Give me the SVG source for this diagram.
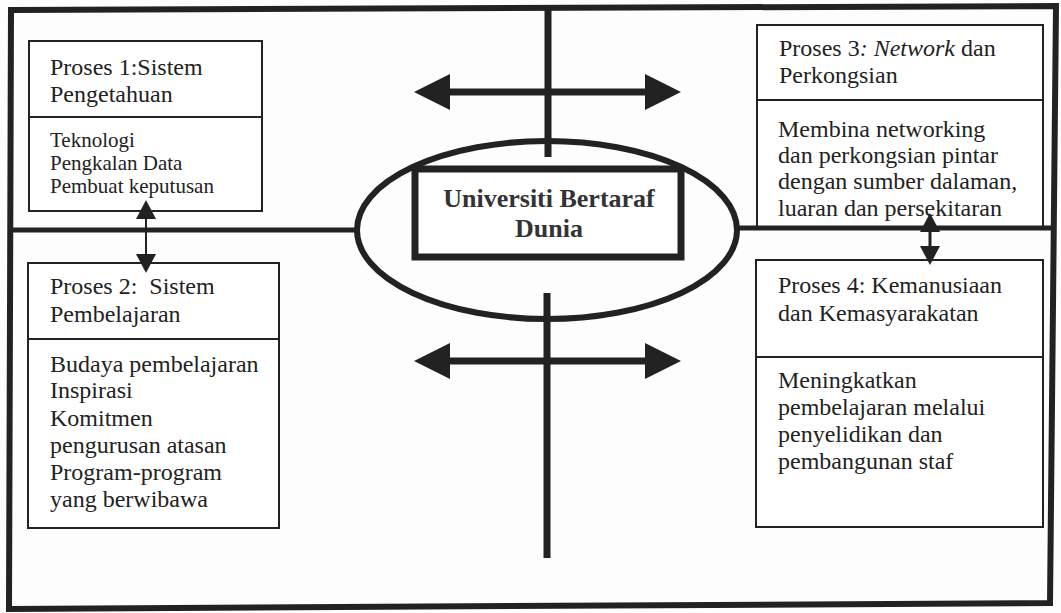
<svg xmlns="http://www.w3.org/2000/svg" width="1061" height="613" viewBox="0 0 1061 613">
<style>
.bg{fill:#fdfdfd}
.frame{fill:none;stroke:#222;stroke-width:6;stroke-linejoin:miter}
.box{fill:#fff;stroke:#222;stroke-width:2}
.div{stroke:#222;stroke-width:2}
.t{font-family:"Liberation Serif","Times New Roman",serif;font-size:24px;fill:#222}
.s{font-size:21px}
.c{font-family:"Liberation Serif","Times New Roman",serif;font-size:26px;font-weight:bold;fill:#333;text-anchor:middle}
.thick{stroke:#222;fill:none}
</style>
<defs>
<marker id="big" viewBox="0 0 36 36" refX="0" refY="18" markerWidth="36" markerHeight="36" markerUnits="userSpaceOnUse" orient="auto-start-reverse">
<path d="M0,0 L36,18 L0,36 Z" fill="#222"/>
</marker>
<marker id="small" viewBox="0 0 20 20" refX="0" refY="10" markerWidth="20" markerHeight="20" markerUnits="userSpaceOnUse" orient="auto-start-reverse">
<path d="M0,0 L19,10 L0,20 Z" fill="#222"/>
</marker>
</defs>
<rect class="bg" x="0" y="0" width="1061" height="613"/>
<g id="frame">
<polygon class="frame" points="11,10 1056,6 1050,603 9,609"/>
</g>
<g id="center">
<ellipse cx="547" cy="230" rx="190" ry="89" fill="none" stroke="#222" stroke-width="6"/>
<rect x="415" y="169" width="266" height="88" fill="#fff" stroke="#222" stroke-width="7"/>
<text class="c" x="549" y="207">Universiti Bertaraf</text>
<text class="c" x="549" y="237">Dunia</text>
</g>
<g id="box1">
<rect class="box" x="29" y="41" width="233" height="170"/>
<line class="div" x1="29" y1="117" x2="262" y2="117"/>
<text class="t" x="50" y="75">Proses 1:Sistem</text>
<text class="t" x="50" y="102">Pengetahuan</text>
<text class="t s" x="50" y="147">Teknologi</text>
<text class="t s" x="50" y="170">Pengkalan Data</text>
<text class="t s" x="50" y="193">Pembuat keputusan</text>
</g>
<g id="box2">
<rect class="box" x="28" y="263" width="251" height="265"/>
<line class="div" x1="28" y1="339" x2="279" y2="339"/>
<text class="t" x="50" y="294" xml:space="preserve">Proses 2:  Sistem</text>
<text class="t" x="50" y="322">Pembelajaran</text>
<text class="t" x="50" y="372">Budaya pembelajaran</text>
<text class="t" x="50" y="398">Inspirasi</text>
<text class="t" x="50" y="426">Komitmen</text>
<text class="t" x="50" y="453">pengurusan atasan</text>
<text class="t" x="50" y="480">Program-program</text>
<text class="t" x="50" y="507">yang berwibawa</text>
</g>
<g id="box3">
<rect class="box" x="757" y="25" width="286" height="203"/>
<line class="div" x1="757" y1="100" x2="1043" y2="100"/>
<text class="t" x="779" y="56">Proses 3<tspan font-style="italic">: Network</tspan> dan</text>
<text class="t" x="779" y="83">Perkongsian</text>
<text class="t" x="778" y="137">Membina networking</text>
<text class="t" x="778" y="163">dan perkongsian pintar</text>
<text class="t" x="778" y="189">dengan sumber dalaman,</text>
<text class="t" x="778" y="216">luaran dan persekitaran</text>
</g>
<g id="box4">
<rect class="box" x="756" y="260" width="287" height="267"/>
<line class="div" x1="756" y1="357" x2="1043" y2="357"/>
<text class="t" x="778" y="293">Proses 4: Kemanusiaan</text>
<text class="t" x="778" y="321">dan Kemasyarakatan</text>
<text class="t" x="778" y="388">Meningkatkan</text>
<text class="t" x="778" y="415">pembelajaran melalui</text>
<text class="t" x="778" y="442">penyelidikan dan</text>
<text class="t" x="778" y="469">pembangunan staf</text>
</g>
<g id="connectors">
<line class="thick" x1="10" y1="230" x2="357" y2="230" stroke-width="5"/>
<line class="thick" x1="737" y1="228" x2="1053" y2="228" stroke-width="5"/>
<line class="thick" x1="548" y1="8" x2="548" y2="157" stroke-width="7"/>
<line class="thick" x1="547" y1="293" x2="547" y2="558" stroke-width="7"/>
<line class="thick" x1="450" y1="92" x2="645" y2="92" stroke-width="7" marker-start="url(#big)" marker-end="url(#big)"/>
<line class="thick" x1="450" y1="361" x2="645" y2="361" stroke-width="7" marker-start="url(#big)" marker-end="url(#big)"/>
<line class="thick" x1="146" y1="219" x2="146" y2="254" stroke-width="2" marker-start="url(#small)" marker-end="url(#small)"/>
<line class="thick" x1="930" y1="232" x2="930" y2="246" stroke-width="3" marker-start="url(#small)" marker-end="url(#small)"/>
</g>
</svg>
